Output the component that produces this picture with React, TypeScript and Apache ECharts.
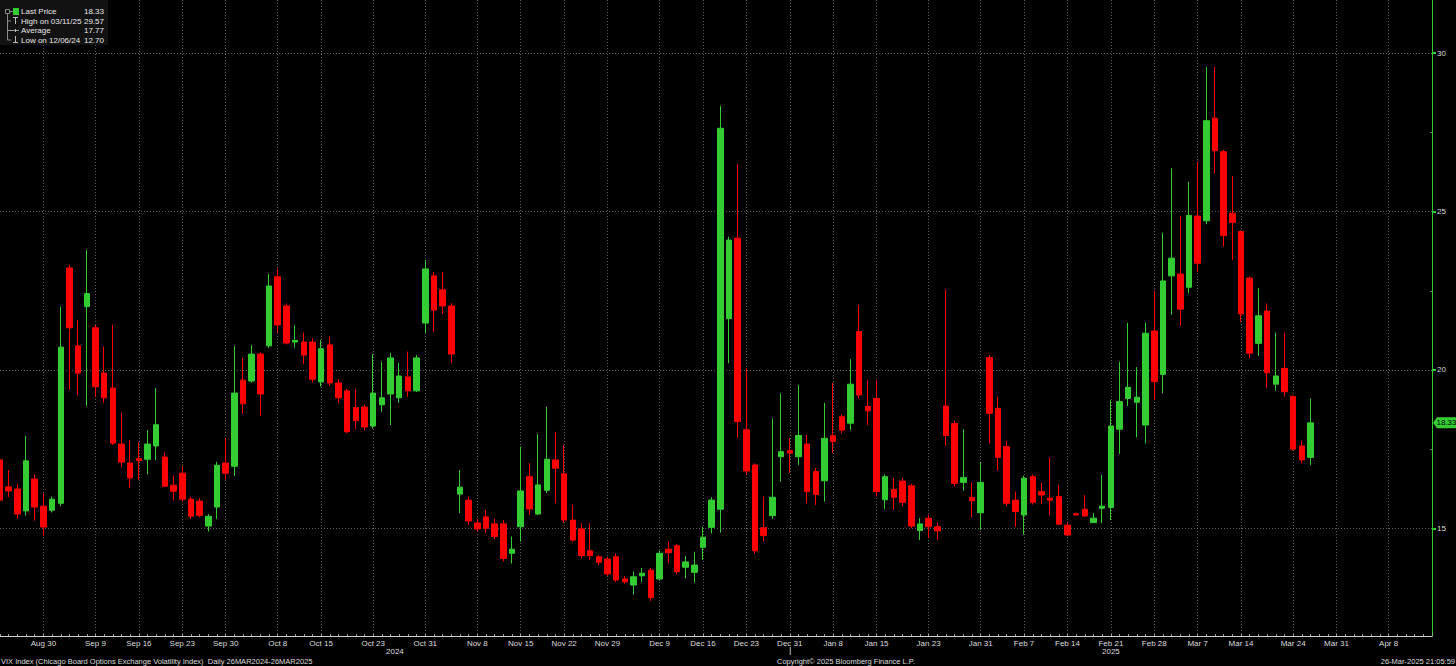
import React, { useEffect, useRef } from "react";
import * as echarts from "echarts";

// ---------- axis categories: every weekday the chart shows (Aug 23 2024 .. Apr 15 2025) ----------
const MONTHS = ["Jan", "Feb", "Mar", "Apr", "May", "Jun", "Jul", "Aug", "Sep", "Oct", "Nov", "Dec"];
const CLOSED_DAYS = ["2024-12-25", "2025-01-01"];
const FIRST_DAY = [2024, 7, 23];
const LAST_DAY = [2025, 3, 15];

function buildCategories(): string[] {
  const out: string[] = [];
  const d = new Date(Date.UTC(FIRST_DAY[0], FIRST_DAY[1], FIRST_DAY[2]));
  const end = Date.UTC(LAST_DAY[0], LAST_DAY[1], LAST_DAY[2]);
  while (d.getTime() <= end) {
    const wd = d.getUTCDay();
    const iso = d.toISOString().slice(0, 10);
    if (wd !== 0 && wd !== 6 && CLOSED_DAYS.indexOf(iso) < 0) {
      out.push(MONTHS[d.getUTCMonth()] + " " + d.getUTCDate());
    }
    d.setUTCDate(d.getUTCDate() + 1);
  }
  return out;
}
const categories = buildCategories();

// tick labels shown on the date axis
const dateLabels = [
  "Aug 30", "Sep 9", "Sep 16", "Sep 23", "Sep 30", "Oct 8", "Oct 15", "Oct 23", "Oct 31",
  "Nov 8", "Nov 15", "Nov 22", "Nov 29", "Dec 9", "Dec 16", "Dec 23", "Dec 31", "Jan 8",
  "Jan 15", "Jan 23", "Jan 31", "Feb 7", "Feb 14", "Feb 21", "Feb 28", "Mar 7", "Mar 14",
  "Mar 24", "Mar 31", "Apr 8",
];
const yearSplit = "Dec 31";
const yTicks = [15, 20, 25, 30];
const yMinorTicks = [17.5, 22.5, 27.5];

// ---------- daily OHLC (one value per category from Aug 23 2024 to Mar 26 2025) ----------
const open = [
  17.16, 16.31, 16.24, 15.55, 16.56, 15.7, 15.57, 15.79, 23.22, 20.76, 22.0, 21.33, 19.9, 19.43, 17.66, 17.06,
  17.2, 17.18, 17.6, 17.25, 16.36, 16.74, 15.92, 15.86, 15.07, 15.67, 17.06, 16.96, 19.68, 19.65, 20.5, 20.76,
  22.94, 22.02, 20.88, 20.88, 20.88, 19.62, 20.79, 19.59, 19.34, 18.81, 18.83, 18.23, 18.9, 19.24, 19.12, 19.78,
  19.34, 21.48, 22.97, 22.53, 22.02, 16.08, 15.89, 15.17, 15.36, 15.14, 15.14, 14.21, 15.05, 16.63, 15.45, 16.2,
  17.16, 16.72, 15.26, 14.98, 14.29, 14.1, 14.03, 14.1, 13.4, 13.21, 13.5, 13.68, 13.4, 14.34, 14.45, 13.77,
  13.61, 14.4, 15.03, 15.6, 21.62, 24.16, 18.11, 17.0, 15.02, 15.4, 17.26, 17.45, 17.26, 17.66, 16.79, 16.5,
  17.92, 18.52, 18.32, 21.21, 18.85, 19.1, 15.9, 16.23, 16.49, 16.34, 14.93, 15.32, 15.05, 18.86, 18.31, 16.45,
  15.97, 15.49, 20.39, 18.79, 17.58, 15.89, 15.42, 16.63, 16.16, 15.95, 16.0, 15.1, 15.46, 15.6, 15.18, 15.63,
  15.66, 18.13, 19.1, 18.98, 18.26, 21.23, 19.86, 22.97, 23.03, 22.61, 24.86, 24.71, 27.95, 26.89, 24.95, 24.37,
  22.9, 20.84, 21.86, 19.55, 20.05, 19.16, 17.6, 17.24,
];
const close = [
  15.89, 16.18, 15.45, 17.13, 15.67, 15.04, 15.92, 20.72, 21.33, 19.9, 22.41, 19.47, 19.12, 17.69, 17.09, 16.59,
  17.14, 17.66, 18.27, 16.33, 16.17, 15.92, 15.38, 15.41, 15.38, 16.99, 16.74, 19.27, 18.93, 20.5, 19.24, 22.65,
  21.42, 20.85, 20.93, 20.47, 19.71, 20.67, 19.59, 19.12, 18.05, 18.4, 18.2, 19.27, 19.12, 20.38, 19.81, 19.34,
  20.38, 23.19, 21.89, 22.02, 20.5, 16.3, 15.23, 14.98, 15.0, 14.74, 14.05, 14.34, 16.18, 15.61, 16.37, 17.18,
  16.9, 15.26, 14.63, 14.14, 14.14, 13.93, 13.56, 13.37, 13.31, 13.47, 13.58, 12.81, 14.21, 14.23, 13.63, 13.94,
  13.84, 14.72, 15.89, 27.63, 24.1, 18.37, 16.81, 14.29, 14.77, 15.98, 17.42, 17.38, 17.93, 16.16, 16.07, 17.84,
  17.74, 18.1, 19.55, 19.21, 18.71, 16.16, 16.63, 15.98, 15.82, 15.07, 15.14, 15.05, 14.92, 17.93, 16.42, 16.6,
  15.87, 16.45, 18.63, 17.24, 15.79, 15.53, 16.58, 15.82, 16.05, 15.89, 15.13, 14.79, 15.42, 15.39, 15.32, 15.7,
  18.23, 19.0, 19.45, 19.14, 21.16, 19.63, 22.81, 23.53, 21.92, 24.88, 23.37, 27.87, 26.92, 24.24, 24.66, 21.77,
  20.53, 21.71, 19.91, 19.81, 19.31, 17.5, 17.16, 18.33,
];
const low = [
  15.8, 15.99, 15.3, 15.4, 15.24, 14.77, 15.5, 15.7, 19.37, 19.21, 18.86, 19.15, 18.96, 17.63, 16.94, 16.28,
  16.53, 16.7, 17.15, 16.3, 15.87, 15.85, 15.3, 15.35, 14.9, 15.29, 16.53, 16.65, 18.61, 19.6, 18.55, 20.7,
  21.17, 20.8, 20.7, 20.19, 19.6, 19.47, 19.5, 18.96, 18.0, 18.14, 18.1, 18.15, 18.68, 18.26, 18.96, 19.15,
  19.3, 21.17, 21.2, 21.77, 20.22, 15.48, 15.1, 14.9, 14.85, 14.65, 13.95, 13.89, 14.58, 15.42, 15.42, 16.11,
  15.79, 15.17, 14.58, 14.05, 14.0, 13.85, 13.5, 13.3, 13.25, 12.9, 13.31, 12.7, 13.35, 13.9, 13.55, 13.42,
  13.28, 14.0, 14.84, 14.86, 20.21, 17.84, 16.7, 14.2, 14.58, 15.3, 16.47, 16.75, 17.0, 15.8, 15.74, 15.84,
  17.38, 18.0, 18.1, 19.1, 18.26, 16.0, 15.6, 15.58, 15.7, 15.0, 14.63, 14.7, 14.63, 17.6, 16.32, 16.19,
  15.35, 14.95, 17.68, 16.82, 15.7, 15.05, 14.8, 15.75, 15.77, 15.42, 15.1, 14.75, 15.4, 15.37, 15.18, 15.16,
  15.26, 17.35, 18.86, 17.87, 17.68, 19.05, 19.26, 21.74, 21.39, 22.42, 23.1, 24.6, 26.19, 23.9, 23.47, 21.52,
  20.37, 20.44, 19.42, 19.35, 19.16, 17.45, 17.05, 17.0,
];
const high = [
  17.3, 16.84, 16.4, 17.92, 16.7, 16.1, 16.0, 22.0, 23.32, 21.58, 23.79, 21.42, 20.74, 21.42, 18.64, 17.79,
  17.73, 18.1, 19.43, 17.4, 16.68, 16.97, 16.0, 15.95, 15.45, 17.1, 17.85, 20.76, 20.38, 20.79, 20.55, 23.03,
  23.19, 22.1, 21.42, 21.18, 21.0, 20.95, 21.04, 19.7, 19.4, 19.4, 18.9, 20.5, 20.26, 20.54, 20.22, 20.58,
  20.47, 23.47, 23.1, 23.1, 22.11, 16.84, 16.0, 15.3, 15.58, 15.3, 15.26, 14.74, 17.58, 17.06, 17.98, 18.84,
  18.04, 17.63, 15.74, 15.17, 15.17, 14.15, 14.1, 14.2, 13.5, 13.63, 13.75, 13.75, 14.3, 14.58, 14.5, 14.13,
  14.26, 15.05, 15.98, 28.34, 24.2, 26.5, 20.05, 17.05, 16.0, 18.47, 19.26, 17.85, 19.53, 17.95, 16.9, 18.96,
  19.59, 18.6, 20.34, 22.05, 19.68, 19.68, 16.7, 16.59, 16.59, 16.4, 15.32, 15.42, 15.18, 22.55, 18.4, 18.13,
  16.45, 17.1, 20.47, 19.16, 17.77, 16.16, 16.66, 16.7, 16.44, 17.24, 16.37, 15.18, 15.5, 16.05, 15.48, 16.68,
  19.05, 20.26, 21.49, 20.09, 21.49, 22.5, 24.33, 26.37, 24.87, 25.94, 26.58, 29.56, 29.57, 26.95, 26.13, 24.4,
  22.95, 22.58, 22.1, 21.18, 21.18, 19.2, 17.77, 19.1,
];

// ---------- legend / footer texts ----------
const legendRows = [
  { label: "Last Price", value: "18.33" },
  { label: "High on 03/11/25", value: "29.57" },
  { label: "Average", value: "17.77" },
  { label: "Low on 12/06/24", value: "12.70" },
];
const lastPrice = 18.33;
const footerLeft = "VIX Index (Chicago Board Options Exchange Volatility Index)  Daily 26MAR2024-26MAR2025";
const footerMid = "Copyright\u00A9 2025 Bloomberg Finance L.P.";
const footerRight = "26-Mar-2025 21:05:59";
const years = ["2024", "2025"];

const UP = "#33cc33";
const DOWN = "#ff0000";
const GRID = "#5e5e5e";
const TXT = "#dcdcdc";
const FONT = "'Liberation Sans', Arial, sans-serif";

export default function App() {
  const ref = useRef<HTMLDivElement>(null);

  useEffect(() => {
    if (!ref.current) return;
    const chart = echarts.init(ref.current, null, { renderer: "svg" });
    const data = open.map((o, i) => [o, close[i], low[i], high[i]]);
    const isLabel = (_i: number, v: string) => dateLabels.indexOf(v) >= 0;

    const W = 1456;
    const plotRight = 1432;
    const plotBottom = 636;

    chart.setOption({
      animation: false,
      backgroundColor: "#000000",
      grid: { left: 0, right: W - plotRight, top: 0, bottom: 666 - plotBottom, containLabel: false },
      xAxis: {
        type: "category",
        data: categories,
        boundaryGap: false,
        axisLine: { show: true, lineStyle: { color: "#d0d0d0", width: 1 } },
        axisTick: { show: true, interval: 0, inside: true, length: 2, lineStyle: { color: "#a0a0a0" } },
        axisLabel: { interval: isLabel, color: TXT, fontSize: 8, fontFamily: FONT, margin: 3 },
        splitLine: { show: true, interval: isLabel, lineStyle: { color: GRID, type: [1, 2], width: 1 } },
      },
      yAxis: [
        {
          type: "value",
          position: "right",
          min: 11.6,
          max: 31.68,
          axisLine: { show: true, lineStyle: { color: UP, width: 1 } },
          axisTick: { show: true, customValues: yTicks, length: 4, lineStyle: { color: UP, width: 2 } },
          axisLabel: { customValues: yTicks, color: TXT, fontSize: 8, fontFamily: FONT, margin: 5 },
          splitLine: { show: true, lineStyle: { color: GRID, type: [1, 2], width: 1 } },
        },
        {
          type: "value",
          position: "right",
          min: 11.6,
          max: 31.68,
          axisLine: { show: false },
          axisTick: { show: true, customValues: yMinorTicks, inside: true, length: 2, lineStyle: { color: "#777" } },
          axisLabel: { show: false },
          splitLine: { show: false },
        },
      ],
      series: [
        {
          type: "candlestick",
          data,
          barWidth: 6,
          clip: true,
          itemStyle: { color: UP, color0: DOWN, borderColor: UP, borderColor0: DOWN, borderWidth: 1 },
        },
      ],
    });

    // positions derived from the axes
    const xSplit = chart.convertToPixel({ xAxisIndex: 0 }, yearSplit) as number;
    const yLast = chart.convertToPixel({ yAxisIndex: 0 }, lastPrice) as number;

    const legendEls: any[] = [
      { type: "rect", shape: { x: 0, y: 0, width: 108, height: 45 }, style: { fill: "#121212" }, z: 100 },
      { type: "line", shape: { x1: 7.5, y1: 13, x2: 7.5, y2: 40 }, style: { stroke: "#8a8a8a", lineWidth: 1 }, z: 101 },
      { type: "rect", shape: { x: 5.5, y: 9.5, width: 4, height: 4 }, style: { fill: "#121212", stroke: "#8a8a8a", lineWidth: 1 }, z: 102 },
      { type: "line", shape: { x1: 9.5, y1: 11.5, x2: 13, y2: 11.5 }, style: { stroke: "#8a8a8a", lineWidth: 1 }, z: 101 },
      { type: "rect", shape: { x: 13, y: 8, width: 6, height: 7 }, style: { fill: UP }, z: 102 },
      // high marker
      { type: "line", shape: { x1: 7.5, y1: 21, x2: 11, y2: 21 }, style: { stroke: "#8a8a8a" }, z: 101 },
      { type: "line", shape: { x1: 13, y1: 17.5, x2: 18, y2: 17.5 }, style: { stroke: "#bdbdbd" }, z: 101 },
      { type: "line", shape: { x1: 15.5, y1: 17.5, x2: 15.5, y2: 24 }, style: { stroke: "#bdbdbd" }, z: 101 },
      // average marker
      { type: "line", shape: { x1: 7.5, y1: 30.5, x2: 19, y2: 30.5 }, style: { stroke: "#9a9a9a" }, z: 101 },
      { type: "line", shape: { x1: 15.5, y1: 29, x2: 15.5, y2: 32 }, style: { stroke: "#bdbdbd" }, z: 101 },
      // low marker
      { type: "line", shape: { x1: 7.5, y1: 40, x2: 11, y2: 40 }, style: { stroke: "#8a8a8a" }, z: 101 },
      { type: "line", shape: { x1: 15.5, y1: 36, x2: 15.5, y2: 42.5 }, style: { stroke: "#bdbdbd" }, z: 101 },
      { type: "line", shape: { x1: 13, y1: 42.5, x2: 18, y2: 42.5 }, style: { stroke: "#bdbdbd" }, z: 101 },
    ];
    const rowY = [11.5, 21, 30.5, 40];
    legendRows.forEach((r, i) => {
      legendEls.push({
        type: "text", x: 21, y: rowY[i], z: 103,
        style: { text: r.label, fill: "#e8e8e8", fontSize: 8, fontFamily: FONT, verticalAlign: "middle", align: "left" },
      });
      legendEls.push({
        type: "text", x: 104, y: rowY[i], z: 103,
        style: { text: r.value, fill: "#e8e8e8", fontSize: 8, fontFamily: FONT, verticalAlign: "middle", align: "right" },
      });
    });

    const tag = [
      {
        type: "polygon", z: 110,
        shape: { points: [[plotRight + 1, yLast], [plotRight + 5, yLast - 5.5], [W, yLast - 5.5], [W, yLast + 5.5], [plotRight + 5, yLast + 5.5]] },
        style: { fill: UP },
      },
      {
        type: "text", x: plotRight + 14.5, y: yLast, z: 111,
        style: { text: String(lastPrice.toFixed(2)), fill: "#000", fontSize: 8, fontFamily: FONT, align: "center", verticalAlign: "middle" },
      },
    ];

    const footer = [
      { type: "line", shape: { x1: xSplit + 0.5, y1: 647, x2: xSplit + 0.5, y2: 655 }, style: { stroke: "#bbbbbb", lineWidth: 1 } },
      { type: "text", x: xSplit / 2, y: 651, style: { text: years[0], fill: TXT, fontSize: 8, fontFamily: FONT, align: "center", verticalAlign: "middle" } },
      { type: "text", x: (xSplit + plotRight) / 2, y: 651, style: { text: years[1], fill: TXT, fontSize: 8, fontFamily: FONT, align: "center", verticalAlign: "middle" } },
      { type: "text", x: 1, y: 661, style: { text: footerLeft, fill: TXT, fontSize: 7.5, fontFamily: FONT, align: "left", verticalAlign: "middle" } },
      { type: "text", x: 846, y: 661, style: { text: footerMid, fill: TXT, fontSize: 7.5, fontFamily: FONT, align: "center", verticalAlign: "middle" } },
      { type: "text", x: 1455, y: 661, style: { text: footerRight, fill: TXT, fontSize: 7.5, fontFamily: FONT, align: "right", verticalAlign: "middle" } },
    ];

    chart.setOption({ graphic: [...legendEls, ...tag, ...footer] });

    return () => chart.dispose();
  }, []);

  return (
    <div
      ref={ref}
      style={{ position: "absolute", left: 0, top: 0, width: 1456, height: 666, background: "#000" }}
    />
  );
}
